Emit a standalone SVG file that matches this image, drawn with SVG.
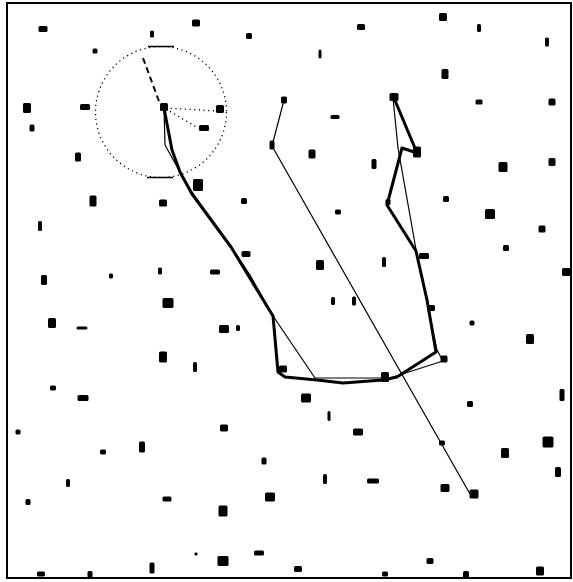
<svg xmlns="http://www.w3.org/2000/svg" width="573" height="582" viewBox="0 0 573 582">
<style>
.d{fill:#000}
.thick{fill:none;stroke:#000;stroke-width:3;stroke-linejoin:round;stroke-linecap:round}
.thin{fill:none;stroke:#000;stroke-width:1.2;stroke-linejoin:round}
.dot{fill:none;stroke:#000;stroke-width:1.3;stroke-dasharray:1.2 3.5}
</style>
<rect x="0" y="0" width="573" height="582" fill="#fff"/>
<rect x="7" y="3" width="564" height="575" fill="none" stroke="#000" stroke-width="2"/>
<g id="circle">
<circle cx="161" cy="112" r="65.5" class="dot"/>
<line x1="148" y1="46.5" x2="174" y2="46.5" stroke="#000" stroke-width="1.5"/>
<line x1="147" y1="177.5" x2="173" y2="177.5" stroke="#000" stroke-width="1.5"/>
<line x1="143" y1="58" x2="160" y2="104" stroke="#000" stroke-width="2" stroke-dasharray="6 4"/>
<line x1="166" y1="108" x2="217" y2="111" class="dot" stroke-width="1.8"/>
<line x1="166" y1="109" x2="198" y2="128" class="dot" stroke-width="1.8"/>
</g>
<g id="connectors">
<polyline class="thick" points="164,108 172,150 180,172 192,194 231,247 273,316 278,372 285,377 317,380 343,383 383,380 397,377 436,352 427,300 416,251 387,205 402,148 417,153 394,98"/>
<polyline class="thin" points="164,108 165,145 180,172 192,192 232,248 250,275 273,316 315,378 390,378 443,361 437,350 417,255 398,148 393,98"/>
<polyline class="thin" points="284,100 272,146 470,494"/>
</g>
<g id="dots" class="d">
<rect x="38.5" y="26" width="9" height="6" rx="1.5"/>
<rect x="150" y="30.5" width="4" height="7" rx="1.5"/>
<rect x="92.5" y="48.5" width="5" height="5" rx="1.5"/>
<rect x="23" y="103" width="8" height="10" rx="1.5"/>
<rect x="80" y="104" width="10" height="6" rx="1.5"/>
<rect x="29.5" y="124.5" width="5" height="7" rx="1.5"/>
<rect x="75" y="152.5" width="6" height="9" rx="1.5"/>
<rect x="160" y="103" width="8" height="8" rx="1.5"/>
<rect x="192" y="19.5" width="8" height="7" rx="1.5"/>
<rect x="246" y="33" width="6" height="6" rx="1.5"/>
<rect x="357" y="24" width="8" height="6" rx="1.5"/>
<rect x="318.5" y="49.5" width="3" height="9" rx="1.5"/>
<rect x="281" y="96.5" width="6" height="7" rx="1.5"/>
<rect x="216" y="105" width="8" height="8" rx="1.5"/>
<rect x="199" y="125" width="10" height="6" rx="1.5"/>
<rect x="269.5" y="140.5" width="5" height="9" rx="1.5"/>
<rect x="330.5" y="115" width="9" height="4" rx="1.5"/>
<rect x="308.5" y="149.5" width="7" height="9" rx="1.5"/>
<rect x="371.5" y="159" width="5" height="10" rx="1.5"/>
<rect x="193" y="179" width="10" height="12" rx="1.5"/>
<rect x="439" y="13" width="8" height="8" rx="1.5"/>
<rect x="477" y="24" width="4" height="8" rx="1.5"/>
<rect x="545" y="37.5" width="4" height="9" rx="1.5"/>
<rect x="441.5" y="69" width="7" height="10" rx="1.5"/>
<rect x="389.5" y="93" width="9" height="8" rx="1.5"/>
<rect x="475.5" y="99.5" width="7" height="5" rx="1.5"/>
<rect x="548.5" y="98.5" width="7" height="7" rx="1.5"/>
<rect x="413" y="146.5" width="8" height="11" rx="1.5"/>
<rect x="498.5" y="162" width="9" height="10" rx="1.5"/>
<rect x="548.5" y="158" width="7" height="8" rx="1.5"/>
<rect x="385.5" y="199" width="5" height="6" rx="1.5"/>
<rect x="89.5" y="195.5" width="7" height="11" rx="1.5"/>
<rect x="159" y="199.5" width="8" height="7" rx="1.5"/>
<rect x="38" y="221" width="4" height="10" rx="1.5"/>
<rect x="41" y="275" width="6" height="10" rx="1.5"/>
<rect x="109" y="273.5" width="4" height="5" rx="1.5"/>
<rect x="158" y="267.5" width="4" height="7" rx="1.5"/>
<rect x="162.5" y="298" width="11" height="10" rx="1.5"/>
<rect x="48" y="318" width="8" height="10" rx="1.5"/>
<rect x="76.5" y="326.5" width="11" height="3" rx="1.5"/>
<rect x="159" y="351.5" width="8" height="11" rx="1.5"/>
<rect x="50" y="385.5" width="6" height="5" rx="1.5"/>
<rect x="241" y="198" width="6" height="6" rx="1.5"/>
<rect x="335" y="209.5" width="6" height="5" rx="1.5"/>
<rect x="241.5" y="251" width="9" height="6" rx="1.5"/>
<rect x="210" y="269.5" width="10" height="5" rx="1.5"/>
<rect x="316" y="260" width="8" height="10" rx="1.5"/>
<rect x="331" y="297" width="4" height="8" rx="1.5"/>
<rect x="352" y="296.5" width="4" height="9" rx="1.5"/>
<rect x="219" y="325" width="10" height="8" rx="1.5"/>
<rect x="236" y="325" width="4" height="6" rx="1.5"/>
<rect x="193" y="362" width="4" height="10" rx="1.5"/>
<rect x="279" y="365.5" width="8" height="7" rx="1.5"/>
<rect x="443" y="196" width="6" height="6" rx="1.5"/>
<rect x="485" y="209" width="10" height="10" rx="1.5"/>
<rect x="538.5" y="225.5" width="7" height="7" rx="1.5"/>
<rect x="503" y="245" width="6" height="6" rx="1.5"/>
<rect x="562" y="268" width="10" height="8" rx="1.5"/>
<rect x="419" y="253" width="10" height="6" rx="1.5"/>
<rect x="382" y="257" width="4" height="10" rx="1.5"/>
<rect x="427" y="305" width="8" height="6" rx="1.5"/>
<rect x="469.5" y="320.5" width="5" height="5" rx="1.5"/>
<rect x="526" y="334" width="8" height="10" rx="1.5"/>
<rect x="440.5" y="355.5" width="7" height="7" rx="1.5"/>
<rect x="381" y="372" width="8" height="10" rx="1.5"/>
<rect x="77.5" y="395" width="11" height="6" rx="1.5"/>
<rect x="15.5" y="429.5" width="5" height="5" rx="1.5"/>
<rect x="100" y="449.5" width="6" height="5" rx="1.5"/>
<rect x="139" y="441.5" width="6" height="11" rx="1.5"/>
<rect x="66" y="479" width="4" height="8" rx="1.5"/>
<rect x="25.5" y="499" width="5" height="6" rx="1.5"/>
<rect x="162.5" y="496.5" width="9" height="5" rx="1.5"/>
<rect x="37" y="571.5" width="8" height="5" rx="1.5"/>
<rect x="87.5" y="571" width="5" height="8" rx="1.5"/>
<rect x="149.5" y="562.5" width="5" height="11" rx="1.5"/>
<rect x="301" y="393.5" width="10" height="9" rx="1.5"/>
<rect x="327.5" y="411" width="3" height="10" rx="1.5"/>
<rect x="220" y="424.5" width="8" height="7" rx="1.5"/>
<rect x="353" y="428.5" width="10" height="7" rx="1.5"/>
<rect x="261.5" y="457.5" width="5" height="7" rx="1.5"/>
<rect x="323" y="474" width="4" height="10" rx="1.5"/>
<rect x="367" y="478.5" width="12" height="5" rx="1.5"/>
<rect x="265" y="492.5" width="10" height="9" rx="1.5"/>
<rect x="218.5" y="505.5" width="9" height="11" rx="1.5"/>
<rect x="254" y="550.5" width="10" height="5" rx="1.5"/>
<rect x="217.5" y="556" width="11" height="10" rx="1.5"/>
<rect x="294" y="566" width="8" height="6" rx="1.5"/>
<rect x="194.5" y="552.5" width="3" height="3" rx="1"/>
<rect x="559.5" y="389" width="5" height="12" rx="1.5"/>
<rect x="467" y="401" width="6" height="6" rx="1.5"/>
<rect x="439" y="440.5" width="6" height="5" rx="1.5"/>
<rect x="542.5" y="436.5" width="11" height="11" rx="1.5"/>
<rect x="501" y="448" width="8" height="10" rx="1.5"/>
<rect x="555" y="467" width="6" height="10" rx="1.5"/>
<rect x="440.5" y="484" width="9" height="8" rx="1.5"/>
<rect x="469.5" y="489.5" width="9" height="9" rx="1.5"/>
<rect x="426.5" y="558" width="7" height="6" rx="1.5"/>
<rect x="382" y="571.5" width="6" height="5" rx="1.5"/>
<rect x="463" y="571" width="6" height="8" rx="1.5"/>
<rect x="536" y="566.5" width="8" height="9" rx="1.5"/>
</g>
</svg>
